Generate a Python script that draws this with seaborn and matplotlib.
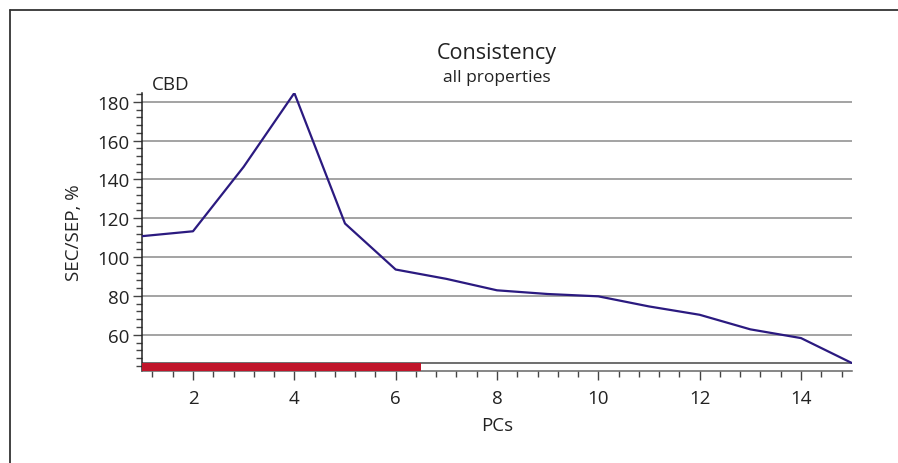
import numpy as np
import pandas as pd
import seaborn as sns
import matplotlib.pyplot as plt
from matplotlib.lines import Line2D
from matplotlib.ticker import MultipleLocator

# data
pcs = [1, 2, 3, 4, 5, 6, 7, 8, 9, 10, 11, 12, 13, 14, 15]
sec_sep = [110.8, 113.3, 146.5, 184.5, 117.3, 93.6, 88.8, 82.9, 81.0, 79.8,
           74.6, 70.3, 62.8, 58.3, 45.5]
band_pcs = [1, 6.5]

df = pd.DataFrame({"PCs": pcs, "SEC/SEP": sec_sep})

sns.set_style("white")
plt.rcParams["font.family"] = ["Open Sans", "DejaVu Sans"]

fig = plt.figure(figsize=(8.98, 4.64), dpi=100)
ax = fig.add_axes([0.1585, 0.1989, 0.7899, 0.5985])

ymin, ymax = 41.5, 184.5
ax.set_xlim(1, 15)
ax.set_ylim(ymin, ymax)

for v in [60, 80, 100, 120, 140, 160, 180]:
    ax.axhline(v, color="#8a8a8a", lw=1.1, zorder=1)
ax.axhline(45.5, color="#555555", lw=1.2, zorder=2)

# red band of selected PCs
ax.barh(y=(ymin + 45.5) / 2, width=band_pcs[1] - band_pcs[0], left=band_pcs[0],
        height=45.5 - ymin, color="#c0152a", edgecolor="none", zorder=3)

sns.lineplot(data=df, x="PCs", y="SEC/SEP", color="#2b1a80", lw=1.6, ax=ax, zorder=4)

ax.xaxis.set_minor_locator(MultipleLocator(0.4))
ax.yaxis.set_minor_locator(MultipleLocator(4))
ax.set_yticks([60, 80, 100, 120, 140, 160, 180])
ax.set_xticks([2, 4, 6, 8, 10, 12, 14])

ax.tick_params(axis="both", which="major", direction="out", length=6.5, width=1,
               color="#444444", labelsize=13.5, labelcolor="#222222")
ax.tick_params(axis="x", which="major", pad=7)
ax.tick_params(axis="y", which="major", pad=3)
ax.tick_params(axis="both", which="minor", direction="out", length=4, width=1,
               color="#444444")
ax.tick_params(left=True, bottom=True, which="both")

for s in ["top", "right"]:
    ax.spines[s].set_visible(False)
ax.spines["left"].set_color("#222222")
ax.spines["bottom"].set_color("#666666")
ax.spines["left"].set_linewidth(1.1)
ax.spines["bottom"].set_linewidth(1.1)

ax.set_xlabel("PCs", fontsize=13.5, color="#222222", labelpad=6)
ax.set_ylabel("SEC/SEP, %", fontsize=13.5, color="#222222", labelpad=10)

ax.text(0.013, 1.0, "CBD", transform=ax.transAxes, ha="left", va="bottom",
        fontsize=13.5, color="#222222")

fig.text(0.553, 1 - 53 / 464, "Consistency", ha="center", va="center",
         fontsize=15.5, color="#222222")
fig.text(0.553, 1 - 78 / 464, "all properties", ha="center", va="center",
         fontsize=12.5, color="#222222")

# outer frame (left and top edges)
fig.add_artist(Line2D([9.5 / 898, 9.5 / 898], [0, 1 - 11 / 464], color="#333333", lw=1.3))
fig.add_artist(Line2D([9.5 / 898, 1], [1 - 11 / 464, 1 - 11 / 464], color="#333333", lw=1.3))

fig.savefig("out.png", dpi=100)
